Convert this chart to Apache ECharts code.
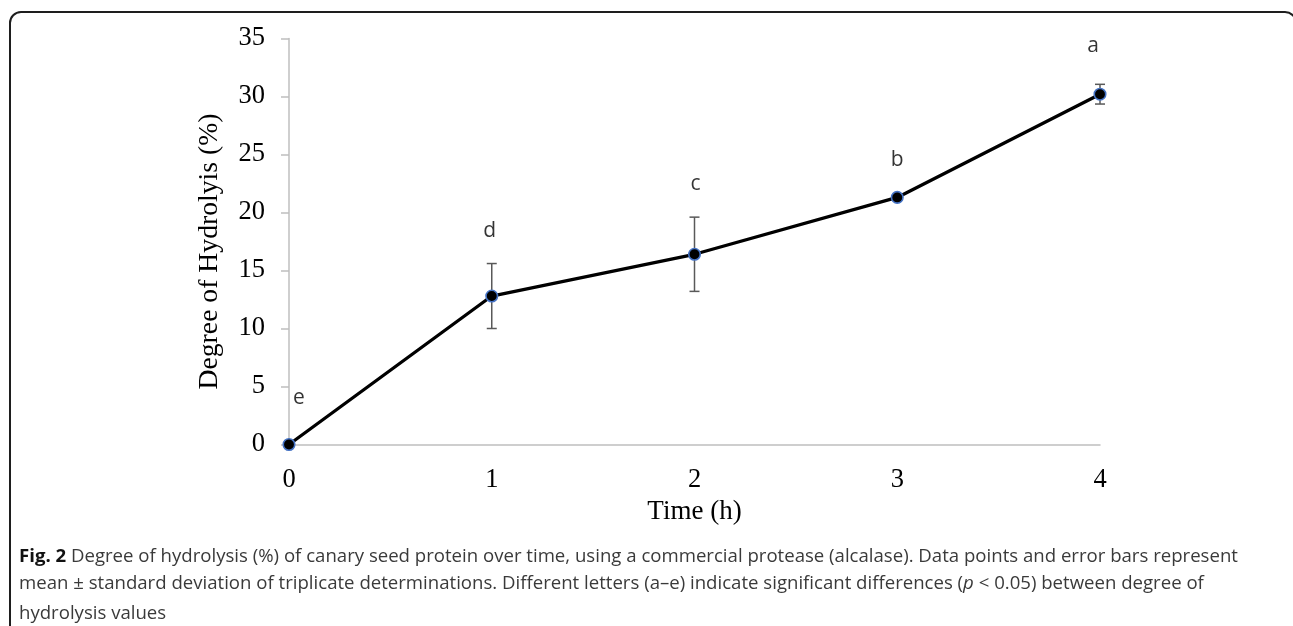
<!DOCTYPE html>
<html>
<head>
<meta charset="utf-8">
<script src="https://cdn.jsdelivr.net/npm/echarts@6/dist/echarts.min.js"></script>
<style>
html,body{margin:0;padding:0;background:#fff;}
#chart{width:1293px;height:626px;}
</style>
</head>
<body>
<div id="chart"></div>
<script>
// ---- data ----
var timeHours = [0, 1, 2, 3, 4];
var meanDH = [0, 12.8, 16.4, 21.3, 30.2];
var sdDH = [0, 2.8, 3.2, 0, 0.85];
var sigLetters = ['e', 'd', 'c', 'b', 'a'];
var yTicks = [0, 5, 10, 15, 20, 25, 30, 35];
var xTicks = [0, 1, 2, 3, 4];

var xTitle = 'Time (h)';
var yTitle = 'Degree of Hydrolyis (%)';
var captionBold = 'Fig. 2';
var captionLines = [
  ' Degree of hydrolysis (%) of canary seed protein over time, using a commercial protease (alcalase). Data points and error bars represent',
  'mean \u00b1 standard deviation of triplicate determinations. Different letters (a\u2013e) indicate significant differences (',
  'hydrolysis values'
];
var captionLine2Italic = 'p';
var captionLine2Rest = ' < 0.05) between degree of';

// label placement tweaks (styling only)
var letterOffsets = [[10, -46], [-2, -33], [1, -33], [0, -37], [-7, -38]];

var serif = '"Liberation Serif", "Times New Roman", serif';
var sans = '"Open Sans", "Noto Sans", sans-serif';

var chart = echarts.init(document.getElementById('chart'), null, {renderer: 'canvas'});

var lineData = timeHours.map(function (t, i) { return [t, meanDH[i]]; });
var errData = timeHours.map(function (t, i) { return [t, meanDH[i] - sdDH[i], meanDH[i] + sdDH[i]]; });
var letterData = timeHours.map(function (t, i) {
  return {
    value: [t, meanDH[i] + sdDH[i]],
    label: {formatter: sigLetters[i], offset: letterOffsets[i]}
  };
});

var option = {
  animation: false,
  backgroundColor: '#ffffff',
  grid: {left: 289, right: 193, top: 38.5, bottom: 181.5, containLabel: false},
  xAxis: {
    type: 'value', min: 0, max: 4, interval: 1,
    name: xTitle, nameLocation: 'middle', nameGap: 53,
    nameTextStyle: {fontFamily: serif, fontSize: 27, color: '#000'},
    axisLine: {show: true, onZero: false, lineStyle: {color: '#bfbfbf', width: 1.5}},
    axisTick: {show: false},
    splitLine: {show: false},
    axisLabel: {fontFamily: serif, fontSize: 26.5, color: '#000', margin: 22,
      formatter: function (v) { return xTicks.indexOf(v) >= 0 ? String(v) : ''; }}
  },
  yAxis: {
    type: 'value', min: 0, max: 35, interval: 5,
    name: yTitle, nameLocation: 'middle', nameGap: 65, nameRotate: 90,
    nameTextStyle: {fontFamily: serif, fontSize: 27.7, color: '#000', padding: [0, 20, 0, 0]},
    axisLine: {show: true, lineStyle: {color: '#bfbfbf', width: 1.5}},
    axisTick: {show: true, inside: false, length: 8, lineStyle: {color: '#bfbfbf', width: 1.5}},
    splitLine: {show: false},
    axisLabel: {fontFamily: serif, fontSize: 26.5, color: '#000', margin: 24,
      formatter: function (v) { return yTicks.indexOf(v) >= 0 ? String(v) : ''; }}
  },
  series: [
    {
      type: 'custom',
      name: 'sd',
      data: errData,
      z: 3,
      renderItem: function (params, api) {
        var x = api.value(0);
        var lo = api.coord([x, api.value(1)]);
        var hi = api.coord([x, api.value(2)]);
        if (Math.abs(hi[1] - lo[1]) < 0.5) return null;
        var w = 5;
        var st = {stroke: '#595959', lineWidth: 1.5, fill: null};
        return {
          type: 'group',
          children: [
            {type: 'line', shape: {x1: lo[0], y1: lo[1], x2: hi[0], y2: hi[1]}, style: st},
            {type: 'line', shape: {x1: hi[0] - w, y1: hi[1], x2: hi[0] + w, y2: hi[1]}, style: st},
            {type: 'line', shape: {x1: lo[0] - w, y1: lo[1], x2: lo[0] + w, y2: lo[1]}, style: st}
          ]
        };
      }
    },
    {
      type: 'line',
      name: 'DH',
      data: lineData,
      z: 4,
      symbol: 'circle',
      symbolSize: 11.5,
      showAllSymbol: true,
      lineStyle: {color: '#000', width: 3.3},
      itemStyle: {color: '#000', borderColor: '#4472C4', borderWidth: 1.6}
    },
    {
      type: 'scatter',
      name: 'letters',
      data: letterData,
      symbolSize: 0,
      silent: true,
      z: 5,
      label: {show: true, position: 'inside', fontFamily: sans, fontSize: 21, color: '#000'}
    }
  ],
  graphic: [
    {
      type: 'rect', silent: true, z: 100,
      shape: {x: 10, y: 12, width: 1286, height: 700, r: 11},
      style: {fill: null, stroke: '#1e1e1e', lineWidth: 2}
    },
    {
      type: 'text', left: 19, top: 547, z: 100,
      style: {
        text: '{b|' + captionBold + '}{n|' + captionLines[0] + '}',
        rich: {
          b: {fontFamily: sans, fontSize: 18.6, fontWeight: 'bold', fill: '#111', lineHeight: 24},
          n: {fontFamily: sans, fontSize: 18.6, fill: '#3a3a3a', lineHeight: 24}
        }
      }
    },
    {
      type: 'text', left: 19, top: 574.5, z: 100,
      style: {
        text: '{n|' + captionLines[1] + '}{i|' + captionLine2Italic + '}{n|' + captionLine2Rest + '}',
        rich: {
          n: {fontFamily: sans, fontSize: 18.6, fill: '#3a3a3a', lineHeight: 24},
          i: {fontFamily: sans, fontSize: 18.6, fontStyle: 'italic', fill: '#3a3a3a', lineHeight: 24}
        }
      }
    },
    {
      type: 'text', left: 19, top: 602, z: 100,
      style: {text: captionLines[2], fontFamily: sans, fontSize: 18.6, fill: '#3a3a3a', lineHeight: 24}
    }
  ]
};
chart.setOption(option);
</script>
</body>
</html>
